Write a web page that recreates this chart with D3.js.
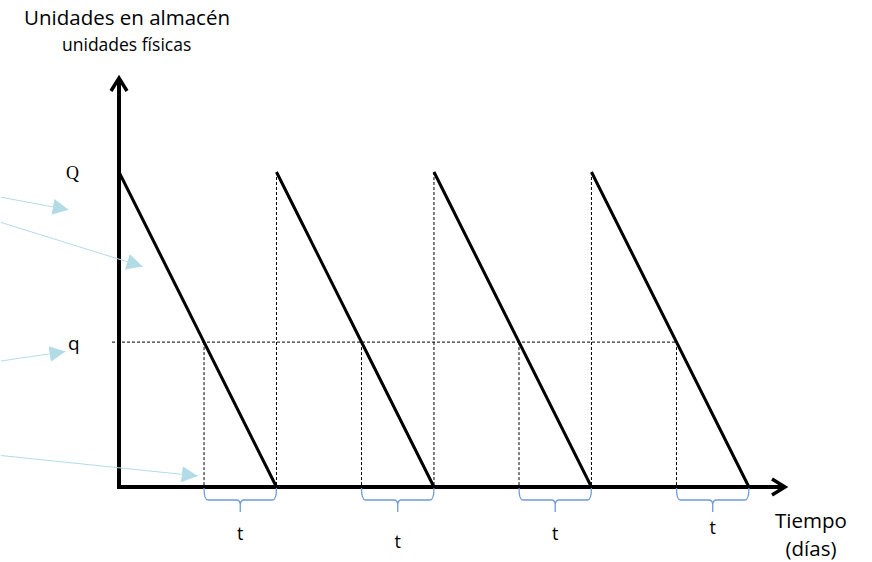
<!DOCTYPE html>
<html><head><meta charset="utf-8">
<script src="https://cdn.jsdelivr.net/npm/d3@7/dist/d3.min.js"></script>
<style>html,body{margin:0;padding:0;background:#fff}svg{display:block}</style>
</head><body>
<svg id="c" width="872" height="562"></svg>
<script>
// ---- data ----
const cycleStarts = [0, 1, 2, 3];          // replenishment times (periods)
const cycleEnds   = [1, 2, 3, 4];          // stock reaches zero
const Qlevel = 100;                         // order quantity Q
const qLevel = 46;                          // reorder point q
const levelLabels = ["Q", "q"];
const periodLabel = "t";
const tLabelOffsets = [0, 8, 0, -6];        // slight vertical jitter of "t" labels
const pointerStarts = [[-0.75, 92], [-0.75, 84], [-0.75, 40], [-0.75, 10]];
const pointerEnds   = [[-0.32, 88], [0.15, 70], [-0.34, 43], [0.5, 3.5]];

// ---- scales ----
const svg = d3.select("#c");
const x = d3.scaleLinear().domain([0, 4.21]).range([119, 782]);
const y = d3.scaleLinear().domain([0, Qlevel]).range([487, 172]);

// defs
const defs = svg.append("defs");
defs.append("marker").attr("id","lb").attr("viewBox","0 0 10 10").attr("refX",10).attr("refY",5)
  .attr("markerWidth",16).attr("markerHeight",16).attr("markerUnits","userSpaceOnUse").attr("orient","auto")
  .append("path").attr("d","M0,0L10,5L0,10z").attr("fill","#b3dbe6");

// dashed guides
const dash = svg.append("g").attr("stroke","#000").attr("stroke-width",1).attr("stroke-dasharray","3,2").attr("fill","none");
dash.append("line").attr("x1",x(0)-7).attr("x2",x(cycleEnds[3]-qLevel/Qlevel)).attr("y1",y(qLevel)).attr("y2",y(qLevel));
cycleStarts.slice(1).forEach(s=>{
  dash.append("line").attr("x1",x(s)).attr("x2",x(s)).attr("y1",y(Qlevel)).attr("y2",y(0));
});
cycleEnds.forEach(e=>{
  const xr = x(e - qLevel/Qlevel);
  dash.append("line").attr("x1",xr).attr("x2",xr).attr("y1",y(qLevel)).attr("y2",y(0));
});

// sawtooth
const line = d3.line().x(d=>x(d[0])).y(d=>y(d[1]));
cycleStarts.forEach((s,i)=>{
  svg.append("path").attr("d",line([[s,Qlevel],[cycleEnds[i],0]]))
    .attr("stroke","#000").attr("stroke-width",3).attr("fill","none");
});

// axes
const ax = svg.append("g").attr("stroke","#000").attr("fill","none").attr("stroke-width",4);
ax.append("line").attr("x1",x(0)).attr("x2",x(0)).attr("y1",y(0)+2).attr("y2",78);
ax.append("line").attr("x1",x(0)-2).attr("x2",784).attr("y1",y(0)).attr("y2",y(0));
ax.append("path").attr("d",`M${x(0)-8},${91}L${x(0)},${78}L${x(0)+8},${91}`).attr("stroke-width",3.5).attr("stroke-linejoin","miter");
ax.append("path").attr("d",`M772,${y(0)-8}L785,${y(0)}L772,${y(0)+8}`).attr("stroke-width",3.5);

// braces
const br = svg.append("g").attr("stroke","#6f9bd6").attr("stroke-width",1.3).attr("fill","none");
cycleEnds.forEach((e,i)=>{
  const a = x(e - qLevel/Qlevel), b = x(e), m=(a+b)/2, t=y(0)+1, h=y(0)+13, tip=y(0)+31;
  br.append("path").attr("d",
    `M${a},${t} Q${a},${h} ${a+4},${h} L${m-4},${h} Q${m},${h} ${m},${h+5} L${m},${tip-6} M${m},${h+5} Q${m},${h} ${m+4},${h} L${b-4},${h} Q${b},${h} ${b},${t}`);
  svg.append("text").attr("x",m).attr("y",y(0)+53+tLabelOffsets[i]).attr("text-anchor","middle")
    .attr("font-family","Open Sans, sans-serif").attr("font-size",18).attr("fill","#000").text(periodLabel);
});

// pointer arrows
pointerStarts.forEach((p,i)=>{
  svg.append("line").attr("x1",x(p[0])).attr("y1",y(p[1])).attr("x2",x(pointerEnds[i][0])).attr("y2",y(pointerEnds[i][1]))
    .attr("stroke","#b3dbe6").attr("stroke-width",1).attr("marker-end","url(#lb)");
});

// level labels
svg.append("text").attr("x",66).attr("y",y(Qlevel)+7).attr("font-family","Liberation Serif, serif").attr("font-size",18).text(levelLabels[0]);
svg.append("text").attr("x",68).attr("y",y(qLevel)+8).attr("font-family","Open Sans, sans-serif").attr("font-size",19).text(levelLabels[1]);

// titles
svg.append("text").attr("x",24).attr("y",25).attr("font-family","Open Sans, sans-serif").attr("font-size",20.5).text("Unidades en almacén");
svg.append("text").attr("x",62).attr("y",51).attr("font-family","Open Sans, sans-serif").attr("font-size",17.5).text("unidades físicas");
svg.append("text").attr("x",811).attr("y",528).attr("text-anchor","middle").attr("font-family","Open Sans, sans-serif").attr("font-size",20.5).text("Tiempo");
svg.append("text").attr("x",811).attr("y",556).attr("text-anchor","middle").attr("font-family","Open Sans, sans-serif").attr("font-size",20.5).text("(días)");
</script>
</body></html>
